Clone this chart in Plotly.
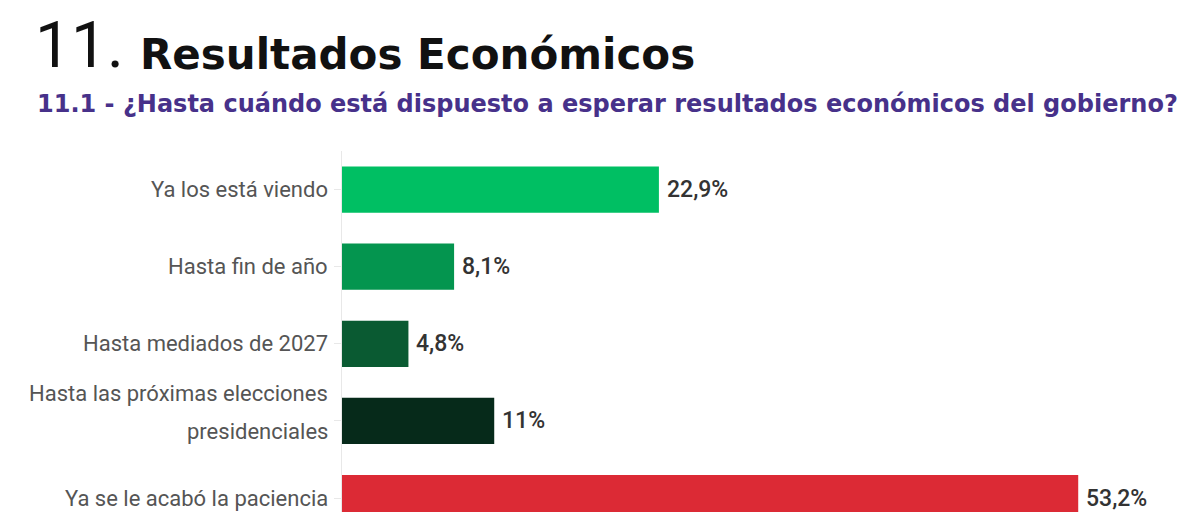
import plotly.graph_objects as go

# respuestas y porcentajes
categorias = [
    "Ya los está viendo",
    "Hasta fin de año",
    "Hasta mediados de 2027",
    "Hasta las próximas elecciones<br>presidenciales",
    "Ya se le acabó la paciencia",
]
valores = [22.9, 8.1, 4.8, 11, 53.2]
etiquetas = ["22,9%", "8,1%", "4,8%", "11%", "53,2%"]
colores = ["#00bf63", "#04954f", "#0a5a32", "#062a1a", "#dc2a35"]

W, H = 1200, 512
L, T = 342, 151
pw, ph = W - L, H - T

def px(x):
    return (x - L) / pw

def py(y):
    return 1 - (y - T) / ph

fig = go.Figure()
fig.add_trace(go.Bar(
    x=valores, y=categorias, orientation="h",
    marker=dict(color=colores, line=dict(width=0)),
    width=0.6,
    cliponaxis=False,
    hoverinfo="skip",
))

fig.update_layout(
    width=W, height=H,
    margin=dict(l=L, r=0, t=T, b=0),
    paper_bgcolor="white", plot_bgcolor="white",
    showlegend=False,
    xaxis=dict(range=[0, 62], visible=False, fixedrange=True, automargin=False),
    yaxis=dict(
        type="category", categoryorder="array", categoryarray=categorias,
        range=[4.18, -0.5], automargin=False, fixedrange=True,
        showline=True, linecolor="#e8e8e8", linewidth=1,
        ticks="outside", ticklen=7, tickcolor="#e8e8e8",
        showticklabels=False, showgrid=False,
    ),
)

# etiquetas de categoria (interlineado amplio)
for cat in categorias:
    lineas = cat.split("<br>")
    shifts = [0] if len(lineas) == 1 else [27, -11]
    for linea, s in zip(lineas, shifts):
        fig.add_annotation(x=0, y=cat, xref="x", yref="y", text=linea,
                           xanchor="right", yanchor="middle", showarrow=False,
                           xshift=-12, yshift=s,
                           font=dict(family="Roboto", size=22, color="#555555"))

# valores
for v, cat, t in zip(valores, categorias, etiquetas):
    fig.add_annotation(x=v, y=cat, xref="x", yref="y", text=t,
                       xanchor="left", yanchor="middle", showarrow=False, xshift=6,
                       font=dict(family="Roboto", size=23, color="#333333", weight=500))

# titulo
fig.add_annotation(text="11.", xref="paper", yref="paper", x=px(33), y=py(46),
                   xanchor="left", yanchor="middle", showarrow=False,
                   font=dict(family="Roboto", size=64, color="#111111", weight=400))
fig.add_annotation(text="<b>Resultados Económicos</b>", xref="paper", yref="paper",
                   x=px(138), y=py(54), xanchor="left", yanchor="middle", showarrow=False,
                   font=dict(family="DejaVu Sans", size=42, color="#111111"))
fig.add_annotation(text="<b>11.1 - ¿Hasta cuándo está dispuesto a esperar resultados económicos del gobierno?</b>",
                   xref="paper", yref="paper", x=px(35), y=py(104),
                   xanchor="left", yanchor="middle", showarrow=False,
                   font=dict(family="DejaVu Sans", size=24, color="#47318a"))

fig.write_html("out.html", config={"displayModeBar": False},
               post_script="document.body.style.margin='0';")
